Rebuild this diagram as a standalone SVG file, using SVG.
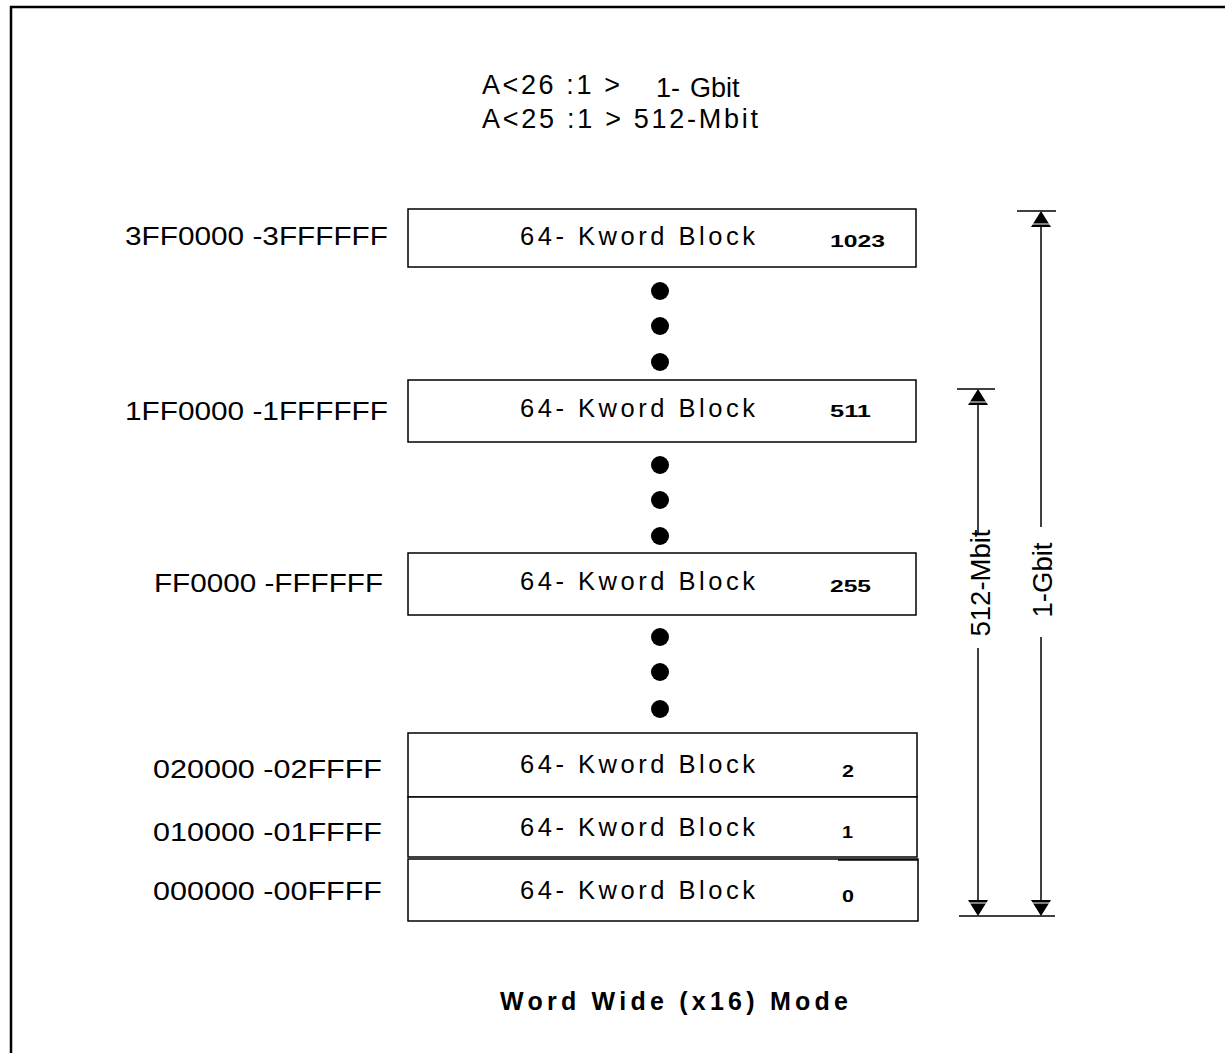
<svg xmlns="http://www.w3.org/2000/svg" width="1225" height="1053" viewBox="0 0 1225 1053">
<style>
.t{font-family:"Liberation Sans",Arial,sans-serif;font-size:25.5px;fill:#000}
.a{font-family:"Liberation Sans",Arial,sans-serif;font-size:25px;fill:#000}
.h{font-family:"Liberation Sans",Arial,sans-serif;font-size:27px;fill:#000}
.b{font-family:"Liberation Sans",Arial,sans-serif;font-size:17px;font-weight:bold;fill:#000}
.blk{fill:#fff;stroke:#000;stroke-width:1.5}
.ln{stroke:#000;stroke-width:1.5;fill:none}
</style>
<rect x="0" y="0" width="1225" height="1053" fill="#fff"/>
<path d="M11,1060 L11,7 L1240,7" fill="none" stroke="#000" stroke-width="2.5"/>
<g id="header">
<text class="h" x="482" y="94" textLength="138" lengthAdjust="spacing">A&lt;26 :1 &gt;</text>
<text class="h" x="656" y="97">1- <tspan x="690">Gbit</tspan></text>
<text class="h" x="482" y="128" textLength="276" lengthAdjust="spacing">A&lt;25 :1 &gt; 512-Mbit</text>
</g>
<g id="block1023">
<rect class="blk" x="408" y="209" width="508" height="58"/>
<text class="t" x="520" y="245" textLength="235" lengthAdjust="spacing">64- Kword Block</text>
<text class="b" x="830" y="247" textLength="55" lengthAdjust="spacingAndGlyphs">1023</text>
<text class="a" x="388" y="245" text-anchor="end" textLength="263" lengthAdjust="spacingAndGlyphs">3FF0000 -3FFFFFF</text>
</g>
<g id="block511">
<rect class="blk" x="408" y="380" width="508" height="62"/>
<text class="t" x="520" y="417" textLength="235" lengthAdjust="spacing">64- Kword Block</text>
<text class="b" x="830" y="417" textLength="41" lengthAdjust="spacingAndGlyphs">511</text>
<text class="a" x="388" y="420" text-anchor="end" textLength="263" lengthAdjust="spacingAndGlyphs">1FF0000 -1FFFFFF</text>
</g>
<g id="block255">
<rect class="blk" x="408" y="553" width="508" height="62"/>
<text class="t" x="520" y="590" textLength="235" lengthAdjust="spacing">64- Kword Block</text>
<text class="b" x="830" y="592" textLength="41" lengthAdjust="spacingAndGlyphs">255</text>
<text class="a" x="383" y="592" text-anchor="end" textLength="229" lengthAdjust="spacingAndGlyphs">FF0000 -FFFFFF</text>
</g>
<g id="block2">
<rect class="blk" x="408" y="733" width="509" height="64"/>
<text class="t" x="520" y="773" textLength="235" lengthAdjust="spacing">64- Kword Block</text>
<text class="b" x="842" y="777" textLength="12" lengthAdjust="spacingAndGlyphs">2</text>
<text class="a" x="382" y="778" text-anchor="end" textLength="229" lengthAdjust="spacingAndGlyphs">020000 -02FFFF</text>
</g>
<g id="block1">
<rect class="blk" x="408" y="797" width="509" height="60"/>
<text class="t" x="520" y="836" textLength="235" lengthAdjust="spacing">64- Kword Block</text>
<text class="b" x="842" y="838" textLength="11" lengthAdjust="spacingAndGlyphs">1</text>
<text class="a" x="382" y="841" text-anchor="end" textLength="229" lengthAdjust="spacingAndGlyphs">010000 -01FFFF</text>
</g>
<g id="block0">
<rect class="blk" x="408" y="859" width="510" height="62"/>
<text class="t" x="520" y="899" textLength="235" lengthAdjust="spacing">64- Kword Block</text>
<text class="b" x="842" y="902" textLength="12" lengthAdjust="spacingAndGlyphs">0</text>
<text class="a" x="382" y="900" text-anchor="end" textLength="229" lengthAdjust="spacingAndGlyphs">000000 -00FFFF</text>
</g>
<g id="dots" fill="#000">
<circle cx="660" cy="291" r="9"/><circle cx="660" cy="326" r="9"/><circle cx="660" cy="362" r="9"/>
<circle cx="660" cy="465" r="9"/><circle cx="660" cy="500" r="9"/><circle cx="660" cy="536" r="9"/>
<circle cx="660" cy="637" r="9"/><circle cx="660" cy="672" r="9"/><circle cx="660" cy="709" r="9"/>
</g>
<g id="connectors">
<line class="ln" x1="1017" y1="211" x2="1056" y2="211"/>
<line class="ln" x1="957" y1="389" x2="995" y2="389"/>
<line class="ln" x1="959" y1="916" x2="1055" y2="916"/>
<line class="ln" x1="1041" y1="226" x2="1041" y2="527"/>
<line class="ln" x1="1041" y1="637" x2="1041" y2="900"/>
<line class="ln" x1="978" y1="404" x2="978" y2="533"/>
<line class="ln" x1="978" y1="648" x2="978" y2="900"/>
<polygon points="1041,211 1051,227 1031,227" fill="#000"/>
<polygon points="978,389 988,405 968,405" fill="#000"/>
<polygon points="1041,916 1051,900 1031,900" fill="#000"/>
<polygon points="978,916 988,900 968,900" fill="#000"/>
<line x1="1032" y1="224" x2="1050" y2="224" stroke="#fff" stroke-width="1"/>
<line x1="969" y1="402" x2="987" y2="402" stroke="#fff" stroke-width="1"/>
<line x1="1032" y1="903" x2="1050" y2="903" stroke="#fff" stroke-width="1"/>
<line x1="969" y1="903" x2="987" y2="903" stroke="#fff" stroke-width="1"/>
<text class="h" transform="translate(1052,580) rotate(-90)" text-anchor="middle" textLength="75" lengthAdjust="spacingAndGlyphs">1-Gbit</text>
<text class="h" transform="translate(990,583) rotate(-90)" text-anchor="middle" textLength="107" lengthAdjust="spacingAndGlyphs">512-Mbit</text>
</g>
<line class="ln" x1="838" y1="860" x2="918" y2="860"/>
<g id="title">
<text class="b" x="500" y="1010" style="font-size:25px" textLength="348" lengthAdjust="spacing">Word Wide  (x16) Mode</text>
</g>
</svg>
